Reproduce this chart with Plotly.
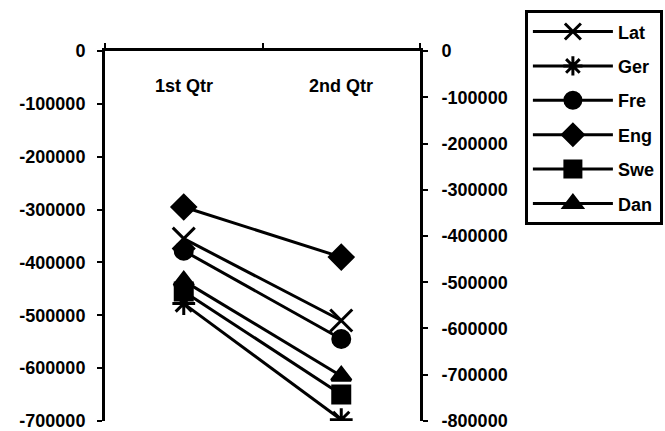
import plotly.graph_objects as go

categories = ["1st Qtr", "2nd Qtr"]
series_names = ["Lat", "Ger", "Fre", "Eng", "Swe", "Dan"]
lat = [-355000, -510000]
ger = [-478000, -698000]
fre = [-378000, -545000]
eng = [-295000, -390000]
swe = [-455000, -650000]
dan = [-435000, -615000]
left_ticks = [0, -100000, -200000, -300000, -400000, -500000, -600000, -700000]
right_ticks = [0, -100000, -200000, -300000, -400000, -500000, -600000, -700000, -800000]

values = [lat, ger, fre, eng, swe, dan]
symbols = ["x-thin-open", "asterisk-open", "circle", "diamond", "square", "triangle-up"]
sizes = [22, 19, 17, 18, 17, 17]

FONT = "Liberation Sans, Arial, sans-serif"

fig = go.Figure()
for name, vals, sym, sz in zip(series_names, values, symbols, sizes):
    fig.add_trace(go.Scatter(
        x=categories, y=vals, name=name, mode="lines+markers",
        line=dict(color="black", width=3),
        marker=dict(symbol=sym, size=sz, color="black",
                    line=dict(color="black", width=3)),
        legendgroup=name,
    ))

# invisible trace to activate the secondary axis
fig.add_trace(go.Scatter(x=categories, y=lat, yaxis="y2", mode="markers",
                         marker=dict(opacity=0), showlegend=False,
                         hoverinfo="skip"))

tickfont = dict(family=FONT, size=18, color="black", weight=700)

# category labels sit just below the top axis line, inside the plot
for cat in categories:
    fig.add_annotation(x=cat, y=1, xref="x", yref="paper",
                       text=cat, showarrow=False, yanchor="top", yshift=-23,
                       font=tickfont)

lmin, rmin = min(left_ticks), min(right_ticks)
fig.update_layout(
    width=665, height=431,
    margin=dict(l=105, r=245, t=51, b=10, autoexpand=False),
    paper_bgcolor="white", plot_bgcolor="white",
    showlegend=True,
    xaxis=dict(
        type="category", side="top", tickson="boundaries",
        range=[-0.5, 1.5], showticklabels=False,
        showline=True, linecolor="black", linewidth=3,
        ticks="outside", ticklen=5, tickwidth=2, tickcolor="black",
        showgrid=False, zeroline=False,
    ),
    yaxis=dict(
        range=[lmin * 1.0005, -lmin * 0.0005], tickvals=left_ticks,
        ticktext=[str(v) for v in left_ticks],
        showline=True, linecolor="black", linewidth=3,
        ticks="outside", ticklen=5, tickwidth=2, tickcolor="black",
        ticklabelstandoff=8, ticklabeloverflow="allow",
        tickfont=tickfont, showgrid=False, zeroline=False,
    ),
    yaxis2=dict(
        range=[rmin * 1.0005, -rmin * 0.0005], tickvals=right_ticks,
        ticktext=[str(v) for v in right_ticks],
        overlaying="y", side="right",
        showline=True, linecolor="black", linewidth=3,
        ticks="outside", ticklen=5, tickwidth=2, tickcolor="black",
        ticklabelstandoff=10, ticklabeloverflow="allow",
        tickfont=tickfont, showgrid=False, zeroline=False,
    ),
    legend=dict(
        x=1.333, y=1.11, xanchor="left", yanchor="top",
        bordercolor="black", borderwidth=3, bgcolor="white",
        font=dict(family=FONT, size=18, color="black", weight=700),
        itemwidth=80, tracegroupgap=8,
    ),
)

fig.write_html("out.html", config={"displayModeBar": False},
               post_script="document.body.style.margin='0px';")
